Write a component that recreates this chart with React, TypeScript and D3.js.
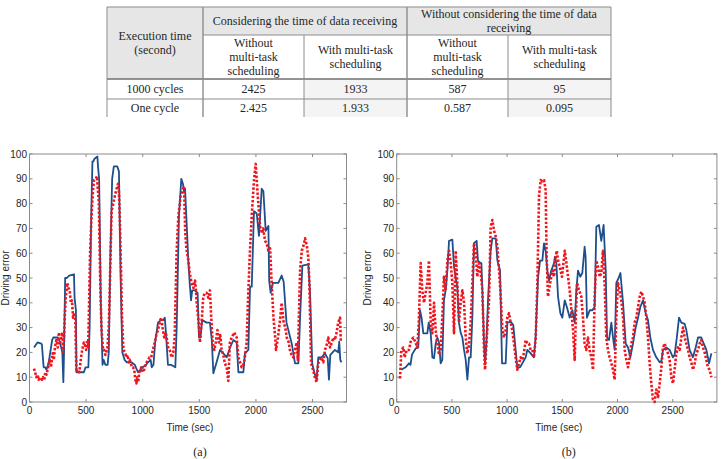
import React from "react";
import * as d3 from "d3";

// ---------- Table content ----------
const tableCornerLines = ["Execution time", "(second)"];
const groupHeaders = [
  ["Considering the time of data receiving"],
  ["Without considering the time of data", "receiving"],
];
const subHeaders = [
  ["Without", "multi-task", "scheduling"],
  ["With multi-task", "scheduling"],
  ["Without", "multi-task", "scheduling"],
  ["With multi-task", "scheduling"],
];
const rowLabels = ["1000 cycles", "One cycle"];
const rowValues = [
  ["2425", "1933", "587", "95"],
  ["2.425", "1.933", "0.587", "0.095"],
];

// ---------- Panel (a) ----------
const aBlueT = [40,55,70,105,110,118,125,140,150,170,200,210,250,262,280,290,299,305,315,330,350,393,398,410,415,430,470,480,495,502,520,531,545,556,565,572,600,605,615,630,645,655,670,690,700,715,730,745,775,790,805,820,840,860,900,930,958,980,1000,1030,1047,1070,1080,1095,1110,1135,1160,1180,1195,1205,1223,1250,1288,1300,1320,1341,1355,1365,1374,1390,1403,1415,1427,1437,1460,1485,1497,1510,1525,1565,1594,1610,1624,1650,1683,1712,1742,1772,1801,1830,1845,1889,1903,1933,1948,1963,1983,2007,2027,2051,2066,2086,2110,2117,2130,2150,2198,2227,2245,2270,2316,2345,2375,2390,2410,2463,2478,2497,2515,2536,2551,2580,2610,2634,2645,2657,2698,2727,2736,2745,2755];
const aBlueV = [22,23,24,23.5,23,18,14,14,13,16,25,26,26,25,22,20,8,20,50,50,51,51.5,42,37,12,12,12,12,14,14,14,30,75,97,97,98,99,95,90,40,15,17,15,15,20,60,90,95,95,93,50,20,17,16,16,15,12,13,14,15,16,17,14,15,24,32,33,33,34,28,15,15,14,30,75,90,88,85,86,70,57,48,41,45,45,44,26,26,33,32,32,25,11.6,15.6,21,19.6,18,22,25,24,12,12,19.6,21,46.5,46.5,77,76,67,86,85,69,71,49,44,48,48,51,48.5,32,23.6,15.6,15.6,34,55,55.5,44,15.6,12,9,18,18,19.6,17.6,9,19,21,20,24.3,17,16];

const aRedT = [40,50,60,72,80,95,110,119,130,140,150,160,178,190,205,215,225,237,250,260,270,281,290,296,305,311,320,334,345,355,365,375,385,395,405,414,425,440,458,470,480,490,500,510,518,523,535,548,560,570,585,596,605,612,625,635,650,658,670,688,700,710,725,740,758,770,782,790,797,810,817,830,845,855,865,878,885,895,905,914,925,935,944,952,960,970,988,1000,1012,1025,1035,1047,1060,1075,1090,1106,1120,1135,1145,1155,1165,1175,1190,1205,1218,1225,1238,1250,1259,1270,1282,1300,1315,1335,1350,1365,1375,1385,1403,1415,1432,1448,1462,1470,1477,1490,1506,1520,1535,1550,1565,1580,1594,1605,1618,1632,1645,1660,1672,1685,1697,1712,1725,1742,1756,1770,1786,1808,1830,1845,1860,1874,1895,1918,1930,1945,1963,1983,1998,2015,2036,2055,2065,2080,2095,2110,2125,2139,2155,2170,2177,2195,2215,2227,2245,2260,2272,2290,2300,2315,2331,2345,2360,2370,2390,2405,2420,2434,2450,2463,2472,2487,2505,2520,2536,2550,2565,2580,2595,2610,2625,2639,2655,2670,2685,2698,2712,2727,2743,2750];
const aRedV = [13.5,12,10,11,9,10,9,10,8.8,12,11,13,17,14,19.6,17,22,25,22,28,24,26,28,20,26,34,42,48,46,45,40,41,34,36,33,12,13,12,19,22,24,23,21,25,22,32,60,75,85,89.5,90,91,85,81,48,30,21,21,19,21.6,30,48,77,80,84,86,88,85,75,50,34,21,20,18,19,16,17,15.6,14,14,13,9,7.5,10,8,12,14,12,13,15,16,17,18,18,21,24,27,29,31,33,34,30,26,28,24,22,21,19,18,20,26,61,75,83,85,87,69,62,57,52,48,46,49,45,40,34,24,32,42.5,44,44,42,45,34,24,21,24,29,24,27,21,19,15.6,14,8.5,24,26,28,26,18,16,14,15.6,24,41,58.6,75,89.5,96,84,71,68,70,65,64,61,62,48,34,26,21,26,34,40,32,30,26,24,21,19,18,21,24,17,53,61,63,66,63,58,48,15.6,13,10,8,15.6,17,18,16,21,23,26,22,24,26,25,28,32,34,24];

// ---------- Panel (b) ----------
const bBlueT = [42,60,81,100,111,125,138,150,172,195,211,225,241,277,290,308,323,338,353,368,383,398,413,428,443,459,474,504,519,534,549,564,579,595,610,625,640,655,670,685,700,724,736,760,767,776,791,800,812,827,851,866,897,912,936,945,954,987,1002,1032,1056,1077,1092,1117,1138,1168,1183,1213,1243,1258,1280,1298,1319,1334,1349,1364,1379,1400,1425,1433,1446,1461,1482,1500,1522,1543,1567,1591,1612,1627,1642,1663,1681,1702,1711,1723,1748,1772,1793,1808,1832,1853,1874,1893,1905,1923,1944,1959,1974,1989,2010,2026,2050,2074,2095,2116,2140,2164,2186,2207,2231,2255,2276,2297,2321,2351,2382,2397,2412,2442,2472,2502,2517,2537,2557,2578,2608,2623,2653,2683,2708,2729,2759,2780,2805,2829,2850];
const bBlueV = [13,13.5,14,15,15.6,15,19,20,21.6,22,37,34,27.7,27.7,32,27.7,18,17.6,23.6,26,24,15.6,17,41,45,53,65,65.5,54.6,50,46.5,32,28,26,21,17,9,18,18,34,64,65,57,56,56,45,23.6,15.6,23.6,41,61,66,66,57,53,34,15.6,15.6,32,32.4,31,21,14,14,15.6,18,21,19.6,18,26,50,57,57,64,61,53,49,53,56,58.6,56,42.5,35.8,34,41,38,34,37,32,45,53,50.5,52,62.6,58.6,34,37,37,38.4,70.7,71.4,65,71.4,53,26,25,32,26,21,48,50,52,40,23.6,22,18,23.6,30,34,38.4,41,35.8,33,26,21,18,16,16.5,21,22,21,18,19,26,34,32,31.5,29,21,18,22,26,26,23.6,21,15.6,19.6];

const bRedT = [30,42,60,72,90,111,130,151,170,187,200,217,232,247,262,277,292,308,323,338,353,368,383,398,413,428,443,459,474,489,504,519,534,549,564,579,595,610,625,640,655,670,685,700,715,730,745,761,776,791,800,812,836,851,866,882,897,912,927,942,957,972,987,1002,1017,1032,1047,1062,1077,1092,1108,1123,1138,1153,1168,1183,1198,1213,1228,1243,1259,1274,1289,1304,1319,1334,1349,1357,1370,1390,1410,1425,1440,1450,1462,1476,1497,1522,1537,1552,1567,1582,1597,1612,1622,1633,1652,1672,1687,1702,1717,1732,1747,1763,1778,1793,1808,1823,1838,1853,1868,1883,1898,1913,1928,1944,1959,1974,1989,2004,2019,2034,2050,2065,2080,2095,2110,2125,2140,2155,2170,2186,2201,2216,2231,2246,2261,2276,2291,2306,2321,2336,2351,2367,2382,2397,2412,2427,2442,2457,2472,2487,2502,2517,2532,2548,2563,2578,2593,2608,2623,2638,2653,2668,2684,2699,2714,2729,2744,2759,2774,2789,2804,2819,2834,2850];
const bRedV = [9.5,21,22,18,21,21,25,26,24,22,32,56,45,40,44,48,57,32,27.7,40,29,23.6,19,21,34,50.5,45,57,61,56,48,27.7,61,48,32,40,45,40,26,19.6,23,32,48,64,61,50.5,56,52,45,21,13,23,41,70.7,73.4,69,66.7,62.6,53,43,29,26,29,34,35.8,32,29,23.6,18,13,15.6,18,17,20,25,23.6,23.6,21,21,18,26,48,83,89.5,89,89.5,85.5,61,42.5,48,53,50.5,58.6,61,57,54.6,50.5,61,56,50.5,45,37,29,17,34,48,45,42.5,34,23.6,21,26,21,18,13,42.5,57,54.6,50.5,52,61,48,26,21,18,15.6,13,9,34,48,45,41,34,21,17,14,18,23.6,26,32,34,38.4,42.5,44.5,42.5,40,34,26,15.6,7.5,1,0,5,2,7.5,14,22,23.6,21,19.6,17,10,7.5,13,19.6,22,21,26,30,26,23.6,21,18,16,13,15.6,19.6,21,23.6,25,22,20,17,14,13,10];

const xTickStep = 500;
const yTicks = [0, 10, 20, 30, 40, 50, 60, 70, 80, 90, 100];

const BLUE = "#1d4f8c";
const RED = "#f0141c";
const AXIS = "#8a8a8a";
const TEXT = "#262626";
const SANS = "'Liberation Sans', Arial, Helvetica, sans-serif";
const SERIF = "'Liberation Serif', 'Times New Roman', serif";

type PanelProps = {
  left: number;
  right: number;
  top: number;
  bottom: number;
  xMax: number;
  blueT: number[];
  blueV: number[];
  redT: number[];
  redV: number[];
  caption: string;
  ylabelX: number;
};

function Panel(p: PanelProps) {
  const x = d3.scaleLinear().domain([0, p.xMax]).range([p.left, p.right]);
  const y = d3.scaleLinear().domain([0, 100]).range([p.bottom, p.top]);
  const xTicks = d3.range(0, p.xMax + 1, xTickStep);
  const path = (ts: number[], vs: number[]) =>
    d3
      .line<[number, number]>()
      .x((d) => x(d[0]))
      .y((d) => y(d[1]))(ts.map((t, i) => [t, vs[i]] as [number, number])) || "";
  const cx = (p.left + p.right) / 2;
  const cy = (p.top + p.bottom) / 2;
  const tl = 3;
  return (
    <g>
      <rect x={p.left} y={p.top} width={p.right - p.left} height={p.bottom - p.top} fill="#fff" stroke={AXIS} strokeWidth={1} />
      {xTicks.map((t) => (
        <g key={"xt" + t}>
          <line x1={x(t)} x2={x(t)} y1={p.bottom} y2={p.bottom - tl} stroke={AXIS} />
          <line x1={x(t)} x2={x(t)} y1={p.top} y2={p.top + tl} stroke={AXIS} />
          <text x={x(t)} y={p.bottom + 12} textAnchor="middle" fontFamily={SANS} fontSize={10} fill={TEXT}>
            {t}
          </text>
        </g>
      ))}
      {yTicks.map((v) => (
        <g key={"yt" + v}>
          <line x1={p.left} x2={p.left + tl} y1={y(v)} y2={y(v)} stroke={AXIS} />
          <line x1={p.right} x2={p.right - tl} y1={y(v)} y2={y(v)} stroke={AXIS} />
          <text x={p.left - 2.5} y={y(v) + 3.5} textAnchor="end" fontFamily={SANS} fontSize={10} fill={TEXT}>
            {v}
          </text>
        </g>
      ))}
      <path d={path(p.blueT, p.blueV)} fill="none" stroke={BLUE} strokeWidth={1.8} strokeLinejoin="round" />
      <path d={path(p.redT, p.redV)} fill="none" stroke={RED} strokeWidth={2.6} strokeDasharray="2.4,1.8" strokeLinejoin="round" />
      <text x={cx + 2} y={p.bottom + 29} textAnchor="middle" fontFamily={SANS} fontSize={10} fill={TEXT}>
        Time (sec)
      </text>
      <text
        transform={`translate(${p.ylabelX},${cy}) rotate(-90)`}
        textAnchor="middle"
        fontFamily={SANS}
        fontSize={10}
        fill={TEXT}
      >
        Driving error
      </text>
      <text x={cx + 12} y={p.bottom + 54} textAnchor="middle" fontFamily={SERIF} fontSize={12} fill={TEXT}>
        {p.caption}
      </text>
    </g>
  );
}

function Table() {
  const cols = [107, 203, 304, 407, 508, 611];
  const rows = [7, 35, 79, 99, 117];
  const lh = 14;
  const fs = 12;
  const colC = (i: number) => (cols[i] + cols[i + 1]) / 2;
  const lines = (arr: string[], cx: number, cy: number, key: string) =>
    arr.map((s, i) => (
      <text
        key={key + i}
        x={cx}
        y={cy + (i - (arr.length - 1) / 2) * lh + 4}
        textAnchor="middle"
        fontFamily={SERIF}
        fontSize={fs}
        fill={TEXT}
      >
        {s}
      </text>
    ));
  const stroke = "#8c8c8c";
  return (
    <g>
      {/* shaded header cells */}
      <rect x={cols[0]} y={rows[0]} width={cols[1] - cols[0]} height={rows[2] - rows[0]} fill="#e6e6e6" />
      <rect x={cols[1]} y={rows[0]} width={cols[5] - cols[1]} height={rows[1] - rows[0]} fill="#e6e6e6" />
      {[2, 4].map((c) => (
        <rect key={"sh" + c} x={cols[c]} y={rows[2]} width={cols[c + 1] - cols[c]} height={rows[4] - rows[2]} fill="#f4f4f4" />
      ))}
      {/* borders */}
      <line x1={cols[0]} x2={cols[5]} y1={rows[0]} y2={rows[0]} stroke={stroke} strokeWidth={1.2} />
      <line x1={cols[1]} x2={cols[5]} y1={rows[1]} y2={rows[1]} stroke={stroke} strokeWidth={1} />
      <line x1={cols[0]} x2={cols[5]} y1={rows[2]} y2={rows[2]} stroke="#6f6f6f" strokeWidth={1.6} />
      <line x1={cols[0]} x2={cols[5]} y1={rows[3]} y2={rows[3]} stroke={stroke} strokeWidth={1} />
      {[0, 1, 3, 5].map((c) => (
        <line key={"v" + c} x1={cols[c]} x2={cols[c]} y1={rows[0]} y2={rows[4]} stroke={stroke} strokeWidth={c === 1 || c === 3 ? 1.4 : 1} />
      ))}
      {[2, 4].map((c) => (
        <line key={"vv" + c} x1={cols[c]} x2={cols[c]} y1={rows[1]} y2={rows[4]} stroke={stroke} strokeWidth={1} />
      ))}
      {lines(tableCornerLines, colC(0), (rows[0] + rows[2]) / 2, "corner")}
      {lines(groupHeaders[0], (cols[1] + cols[3]) / 2, (rows[0] + rows[1]) / 2, "g0")}
      {lines(groupHeaders[1], (cols[3] + cols[5]) / 2, (rows[0] + rows[1]) / 2, "g1")}
      {subHeaders.map((h, i) => lines(h, colC(i + 1), (rows[1] + rows[2]) / 2, "s" + i))}
      {rowLabels.map((r, ri) => (
        <g key={"r" + ri}>
          {lines([r], colC(0), (rows[2 + ri] + rows[3 + ri]) / 2, "rl" + ri)}
          {rowValues[ri].map((v, ci) => lines([v], colC(ci + 1), (rows[2 + ri] + rows[3 + ri]) / 2, "rv" + ri + ci))}
        </g>
      ))}
    </g>
  );
}

export default function App() {
  return (
    <svg width={723} height={459} style={{ position: "absolute", left: 0, top: 0, background: "#fff" }}>
      <rect width={723} height={459} fill="#fff" />
      <Table />
      <Panel left={29.5} right={346.5} top={154} bottom={402} xMax={2800} blueT={aBlueT} blueV={aBlueV} redT={aRedT} redV={aRedV} caption="(a)" ylabelX={9} />
      <Panel left={396.7} right={716.9} top={154} bottom={402} xMax={2900} blueT={bBlueT} blueV={bBlueV} redT={bRedT} redV={bRedV} caption="(b)" ylabelX={371} />
    </svg>
  );
}
